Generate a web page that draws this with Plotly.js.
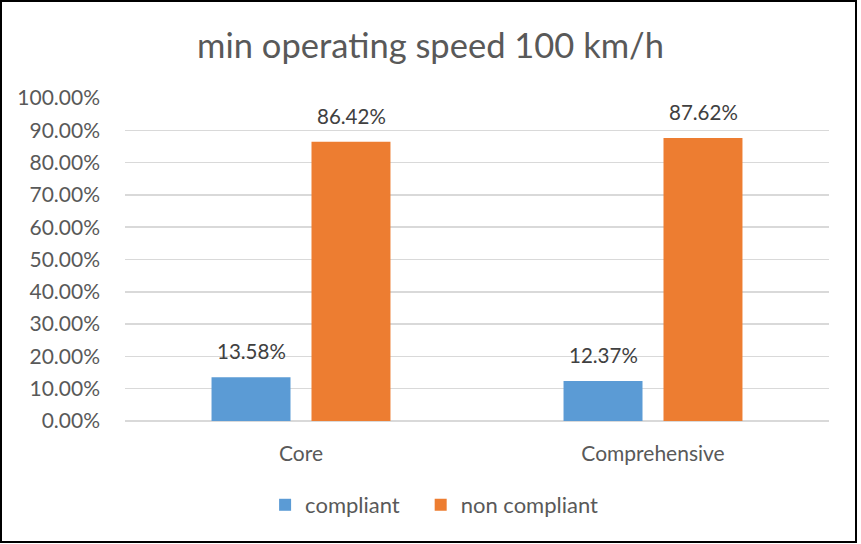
<!DOCTYPE html>
<html><head><meta charset="utf-8">
<script src="https://cdn.plot.ly/plotly-3.0.1.min.js"></script>
<style>
html,body{margin:0;padding:0;background:#fff;}
#wrap{position:relative;width:861px;height:544px;}
#chart{width:861px;height:544px;}
#border{position:absolute;left:0;top:0;width:857px;height:543px;box-sizing:border-box;border:2px solid #000;pointer-events:none;}
</style></head>
<body>
<div id="wrap"><div id="chart"></div><div id="border"></div></div>
<script>
const categories = ["Core", "Comprehensive"];
const compliant = [0.1358, 0.1237];
const nonCompliant = [0.8642, 0.8762];
const seriesNames = ["compliant", "non compliant"];
const colors = ["#5b9bd5", "#ed7d31"];
const yTickVals = [0,0.1,0.2,0.3,0.4,0.5,0.6,0.7,0.8,0.9,1.0];

const font = "Lato, 'Open Sans', sans-serif";
const grey = "#595959";

const legendIds = ["legend", "legend2"];
const traces = [compliant, nonCompliant].map((vals, i) => ({
  type: "bar",
  name: seriesNames[i],
  x: categories,
  y: vals,
  marker: {color: colors[i]},
  legend: legendIds[i],
  hoverinfo: "skip"
}));

const annotations = [];
[compliant, nonCompliant].forEach((vals, i) => {
  vals.forEach((v, j) => {
    annotations.push({
      x: categories[j], y: v, xref: "x", yref: "y",
      text: (v*100).toFixed(2) + "%",
      showarrow: false, yanchor: "bottom",
      xshift: (i === 0 ? -50 : 50), yshift: 12,
      font: {family: font, size: 20.5, color: "#404040"}
    });
  });
});

const legendBase = {orientation: "h", xanchor: "left", y: -0.26, yanchor: "middle",
  font: {family: font, size: 22, color: grey}, itemwidth: 30, bgcolor: "rgba(0,0,0,0)"};

const layout = {
  width: 861, height: 544,
  margin: {l: 125, r: 32, t: 98, b: 123},
  paper_bgcolor: "#fff", plot_bgcolor: "#fff",
  title: {text: "min operating speed 100 km/h", x: 0.5, xref: "container", xanchor: "center", y: 0.915, yanchor: "middle",
          font: {family: font, size: 34.5, color: grey}},
  barmode: "group",
  bargap: 0.432,
  bargroupgap: 0.21,
  xaxis: {tickfont: {family: font, size: 21, color: grey}, showgrid: false, showline: false, ticks: "", fixedrange: true,
          ticklabelstandoff: 18, automargin: false},
  yaxis: {range: [0, 1.0], tickvals: yTickVals, tickformat: ".2%",
          tickfont: {family: font, size: 21, color: grey},
          showgrid: true, gridcolor: "#d9d9d9", gridwidth: 1.5,
          zeroline: true, zerolinecolor: "#d9d9d9", zerolinewidth: 1.5,
          showline: false, ticks: "", ticklen: 0, ticklabelstandoff: 24, automargin: false},
  showlegend: true,
  legend: Object.assign({}, legendBase, {x: 0.199}),
  legend2: Object.assign({}, legendBase, {x: 0.420}),
  annotations: annotations
};

Plotly.newPlot("chart", traces, layout, {displayModeBar: false, staticPlot: true});
</script>
</body></html>
